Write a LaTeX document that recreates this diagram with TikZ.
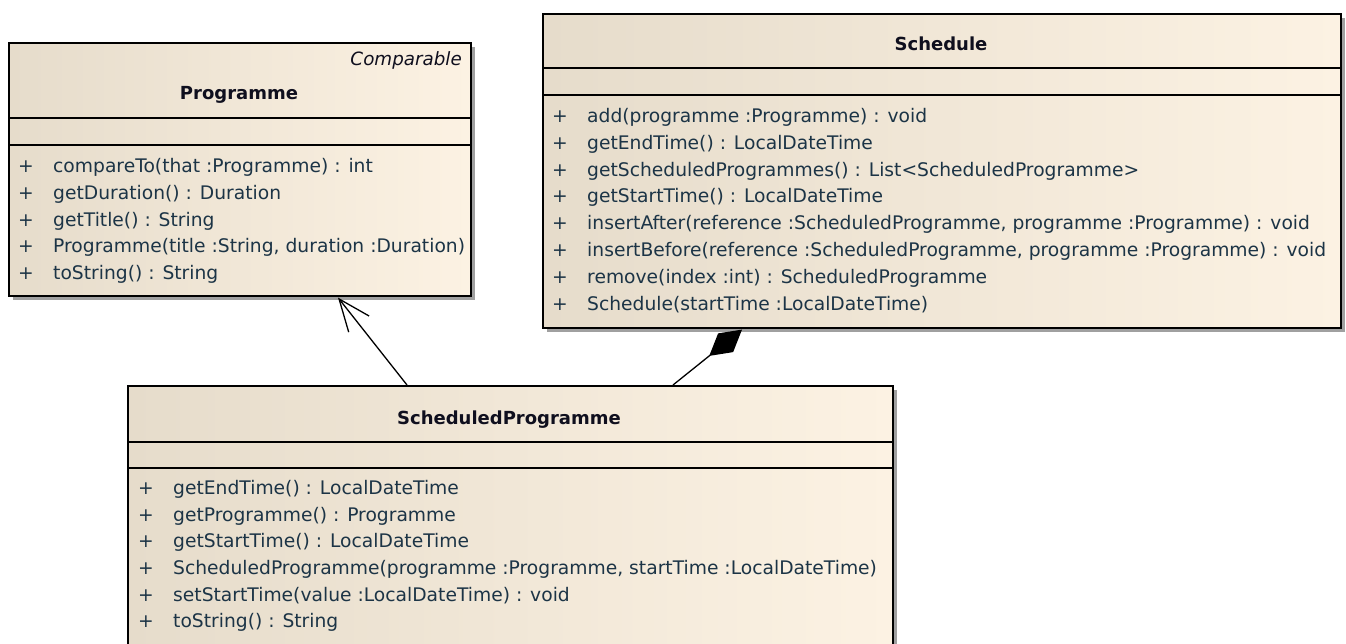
\documentclass[tikz,border=0pt]{standalone}
\usepackage{fontspec}
\setmainfont{DejaVu Sans}
\usetikzlibrary{arrows.meta,shadows,calc}
\definecolor{boxL}{RGB}{230,220,203}
\definecolor{boxR}{RGB}{252,242,227}
\definecolor{txt}{RGB}{28,52,70}
\definecolor{ttl}{RGB}{15,15,30}
\definecolor{shd}{RGB}{160,160,160}
\newcommand\opline[4]{%
  \node[plusst] (#1p) at (#2,#3) {+};
  \node[opst] (#1) at (#2+35,#3) {#4};}
\begin{document}
\begin{tikzpicture}[x=1pt,y=-1pt,
  umlbox/.style={draw=black, line width=1.6pt, left color=boxL, right color=boxR,
    anchor=north west, inner sep=0pt,
    drop shadow={shadow xshift=4pt, shadow yshift=-4pt, fill=shd, opacity=1}},
  sepline/.style={draw=black, line width=1.4pt},
  title/.style={anchor=base, inner sep=0pt, text=ttl, font=\fontsize{18}{21}\selectfont\bfseries},
  stereo/.style={anchor=base east, inner sep=0pt, text=ttl, font=\fontsize{18.3}{21}\selectfont\itshape},
  plusst/.style={anchor=base west, inner sep=0pt, text=txt, font=\fontsize{18.7}{21}\selectfont},
  opst/.style={anchor=base west, inner sep=0pt, text=txt, font=\fontsize{18.7}{21}\selectfont},
  gen/.style={draw=black, line width=1.3pt, -{Straight Barb[length=32pt,width=26pt,line width=1.3pt]}},
  comp/.style={draw=black, line width=1.3pt, -{Diamond[length=42pt,width=24pt]}}]
\useasboundingbox (0,0) rectangle (1346,644);
\fill[white] (0,0) rectangle (1346,644);
\clip (0,0) rectangle (1346,644);

% Programme
\node[umlbox, minimum width=462pt, minimum height=253pt] (prog) at (8,42) {};
\draw[sepline] (prog.north west) ++(0,76) -- ++(462,0);
\draw[sepline] (prog.north west) ++(0,103) -- ++(462,0);
\node[stereo] (progS) at (462,66) {Comparable};
\node[title] (progT) at (239,100) {Programme};
\opline{pa}{18}{173}{compareTo(that :Programme) : int}
\opline{pb}{18}{199.6}{getDuration() : Duration}
\opline{pc}{18}{226.2}{getTitle() : String}
\opline{pd}{18}{252.8}{Programme(title :String, duration :Duration)}
\opline{pe}{18}{279.4}{toString() : String}

% Schedule
\node[umlbox, minimum width=798pt, minimum height=314pt] (sch) at (542,13) {};
\draw[sepline] (sch.north west) ++(0,55) -- ++(798,0);
\draw[sepline] (sch.north west) ++(0,82) -- ++(798,0);
\node[title] (schT) at (941,51) {Schedule};
\opline{sa}{552}{122.5}{add(programme :Programme) : void}
\opline{sb}{552}{149.3}{getEndTime() : LocalDateTime}
\opline{sc}{552}{176.1}{getScheduledProgrammes() : List<ScheduledProgramme>}
\opline{sd}{552}{202.9}{getStartTime() : LocalDateTime}
\opline{se}{552}{229.7}{insertAfter(reference :ScheduledProgramme, programme :Programme) : void}
\opline{sf}{552}{256.5}{insertBefore(reference :ScheduledProgramme, programme :Programme) : void}
\opline{sg}{552}{283.3}{remove(index :int) : ScheduledProgramme}
\opline{sh}{552}{310.1}{Schedule(startTime :LocalDateTime)}

% ScheduledProgramme
\node[umlbox, minimum width=765pt, minimum height=300pt] (sp) at (127,385) {};
\draw[sepline] (sp.north west) ++(0,57) -- ++(765,0);
\draw[sepline] (sp.north west) ++(0,83) -- ++(765,0);
\node[title] (spT) at (509,424) {ScheduledProgramme};
\opline{qa}{138}{494.5}{getEndTime() : LocalDateTime}
\opline{qb}{138}{521.2}{getProgramme() : Programme}
\opline{qc}{138}{547.8}{getStartTime() : LocalDateTime}
\opline{qd}{138}{574.5}{ScheduledProgramme(programme :Programme, startTime :LocalDateTime)}
\opline{qe}{138}{601.2}{setStartTime(value :LocalDateTime) : void}
\opline{qf}{138}{627.8}{toString() : String}

% connectors
\coordinate (g1) at ($(sp.north west)+(280,0)$);
\coordinate (g2) at ($(prog.south west)+(330,1)$);
\draw[gen] (g1) -- (g2);
\coordinate (c1) at ($(sp.north west)+(546,0)$);
\coordinate (c2) at ($(sch.south west)+(200,1)$);
\draw[comp] (c1) -- (c2);
\end{tikzpicture}
\end{document}
